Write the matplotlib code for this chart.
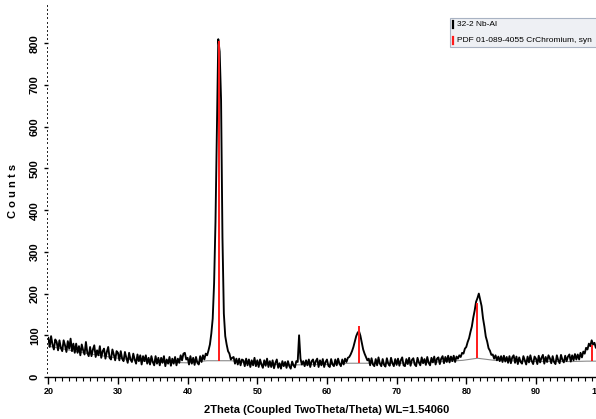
import numpy as np
import matplotlib
matplotlib.use("Agg")
import matplotlib.pyplot as plt
import matplotlib.transforms as mtransforms
from matplotlib.patches import Rectangle
from matplotlib.lines import Line2D
from matplotlib.ticker import MultipleLocator

# ---- data ----
start_theta = 20.0
step_theta = 0.2
counts = [
    94, 72, 98, 78, 66, 90, 84, 64, 88, 70,
    62, 88, 76, 60, 86, 68, 92, 62, 80, 58,
    80, 58, 74, 52, 78, 64, 54, 84, 58, 50,
    72, 50, 66, 76, 48, 64, 52, 74, 46, 62,
    68, 44, 60, 72, 46, 42, 66, 54, 40, 62,
    58, 40, 62, 44, 38, 60, 46, 34, 58, 42,
    36, 56, 42, 32, 54, 38, 52, 30, 50, 38,
    52, 32, 46, 30, 50, 36, 28, 50, 32, 46,
    28, 46, 34, 50, 26, 42, 32, 48, 27, 44,
    32, 48, 28, 44, 34, 52, 40, 56, 58, 42,
    46, 30, 50, 32, 46, 29, 48, 34, 30, 50,
    36, 52, 42, 56, 52, 64, 78, 104, 140, 225,
    372, 595, 810, 780, 665, 335, 152, 98, 78, 62,
    56, 42, 46, 48, 32, 44, 30, 44, 28, 42,
    40, 26, 44, 28, 42, 24, 40, 28, 46, 26,
    40, 24, 42, 30, 22, 40, 27, 44, 24, 38,
    24, 40, 21, 34, 42, 22, 33, 20, 38, 26,
    36, 22, 38, 26, 20, 37, 28, 23, 38, 36,
    100, 44, 30, 38, 26, 40, 28, 42, 24, 38,
    42, 26, 38, 44, 24, 40, 28, 43, 24, 36,
    42, 27, 24, 43, 30, 26, 42, 28, 44, 32,
    26, 42, 30, 44, 36, 46, 48, 54, 62, 72,
    85, 98, 106, 110, 99, 82, 66, 56, 48, 40,
    44, 28, 45, 30, 26, 43, 28, 47, 32, 26,
    43, 29, 25, 45, 32, 27, 46, 33, 26, 43,
    29, 44, 27, 40, 47, 28, 26, 43, 31, 46,
    27, 41, 45, 30, 26, 46, 35, 28, 47, 33,
    43, 29, 48, 34, 28, 46, 35, 49, 30, 44,
    47, 31, 44, 50, 33, 48, 36, 51, 35, 49,
    38, 51, 36, 49, 44, 52, 48, 58, 56, 68,
    72, 84, 93, 108, 121, 142, 159, 180, 189, 200,
    185, 170, 141, 121, 97, 85, 69, 63, 53, 54,
    44, 52, 40, 49, 38, 50, 36, 51, 37, 48,
    34, 50, 33, 47, 52, 34, 49, 31, 47, 36,
    32, 50, 40, 30, 49, 35, 52, 38, 31, 49,
    44, 31, 51, 35, 46, 53, 32, 48, 36, 52,
    45, 33, 50, 36, 31, 52, 40, 33, 53, 41,
    35, 51, 38, 49, 54, 37, 52, 40, 55, 42,
    54, 42, 58, 47, 61, 56, 70, 66, 80, 74,
    88, 78, 82, 70, 74,
    66,
]
two_theta = start_theta + step_theta * np.arange(len(counts))

bg_theta = [20, 25, 30, 35, 40, 42.8, 46.3, 50, 55, 60, 63.2, 65.8, 70, 75,
            79.5, 81.6, 84, 90, 95, 97.3, 100]
bg_counts = [74, 58, 45, 36, 34, 39, 39, 31, 29, 30, 33, 33, 33, 35,
             40, 45, 40, 37, 37, 38, 38]

stick_theta = [44.45, 64.55, 81.6, 98.05]
stick_top = [805, 122, 178, 77]
stick_base = [39, 33, 45, 38]

x_ticks = [20, 30, 40, 50, 60, 70, 80, 90, 100]
y_ticks = [0, 100, 200, 300, 400, 500, 600, 700, 800]

legend_labels = ["32-2 Nb-Al", "PDF 01-089-4055 CrChromium, syn"]
x_label = "2Theta (Coupled TwoTheta/Theta) WL=1.54060"
y_label = "C o u n t s"

# ---- figure ----
W, H = 596, 419
fig = plt.figure(figsize=(W / 100, H / 100), dpi=100)
narrow = ["Liberation Sans Narrow", "Liberation Sans", "DejaVu Sans"]

x0_px, x1_px = 48.3, 605.6
y0_px, ytop_px = 377.0, 5.0
ax = fig.add_axes([x0_px / W, (H - y0_px) / H, (x1_px - x0_px) / W, (y0_px - ytop_px) / H])
ax.set_xlim(20, 100)
ax.set_ylim(0, 892)

ax.plot(bg_theta, bg_counts, color="#8a8a8a", lw=0.8, zorder=2)
ax.plot(two_theta, counts, color="black", lw=1.35, zorder=3)
ax.vlines(stick_theta, stick_base, stick_top, color="#ff1a1a", lw=1.4, zorder=4)

for s in ["top", "right", "left"]:
    ax.spines[s].set_visible(False)
ax.spines["bottom"].set_linewidth(1.0)

ax.set_xticks(x_ticks)
ax.xaxis.set_minor_locator(MultipleLocator(1))
ax.set_yticks(y_ticks)
ax.yaxis.set_minor_locator(MultipleLocator(10))
ax.tick_params(axis="x", which="major", length=5, width=1, direction="out", pad=2)
ax.tick_params(axis="x", which="minor", length=3, width=0.8, direction="out")
ax.tick_params(axis="y", which="major", length=3, width=1, direction="out", pad=3)
ax.tick_params(axis="y", which="minor", length=1, width=1.2, direction="out")

xlabels = ax.set_xticklabels([str(v) for v in x_ticks], family=narrow, fontweight="bold",
                             fontsize=6.5)
# the last label sits at the cropped right edge of the reference
xlabels[-1].set_transform(xlabels[-1].get_transform() +
                          mtransforms.ScaledTranslation(-7 / 100, 0, fig.dpi_scale_trans))
ax.set_yticklabels([str(v) for v in y_ticks], family=narrow, fontweight="bold", fontsize=8,
                   rotation=90, va="center", ha="right")

fig.text(327 / W, 1 - 410 / H, x_label, family=narrow, fontweight="bold", fontsize=8,
         ha="center", va="center")
fig.text(13 / W, 1 - 191 / H, y_label, family=narrow, fontweight="bold", fontsize=8,
         rotation=90, ha="center", va="center")

# legend box
box = Rectangle((450 / W, 1 - 47.3 / H), 200 / W, 29 / H, transform=fig.transFigure,
                facecolor="#eef0f4", edgecolor="#a9b3c3", lw=0.8, zorder=5)
fig.add_artist(box)
legend_colors = ["black", "#ff1a1a"]
legend_y = [25, 40.5]
for lab, col, yy in zip(legend_labels, legend_colors, legend_y):
    fig.add_artist(Line2D([453 / W, 453 / W], [1 - (yy - 3.5) / H, 1 - (yy + 3.5) / H],
                          transform=fig.transFigure, color=col, lw=1.6, zorder=6))
    fig.text(457 / W, 1 - yy / H, lab, family=narrow, fontsize=6.0, ha="left", va="center",
             zorder=6)

fig.savefig("out.png", dpi=100)
